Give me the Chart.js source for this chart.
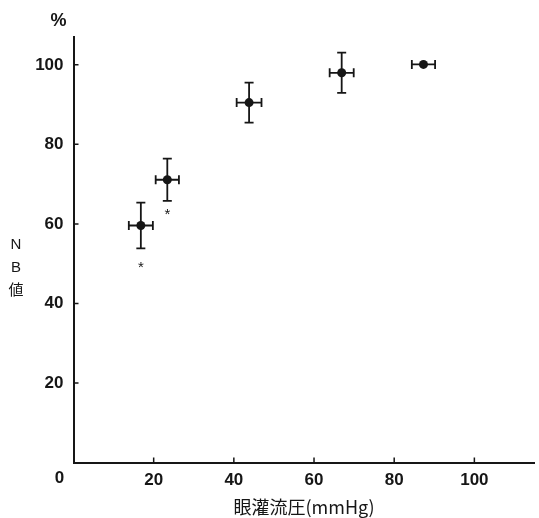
<!DOCTYPE html>
<html>
<head>
<meta charset="utf-8">
<script src="https://cdn.jsdelivr.net/npm/chart.js@4/dist/chart.umd.min.js"></script>
<style>
  html, body { margin: 0; padding: 0; background: #fff; }
  #wrap { width: 539px; height: 518px; }
</style>
</head>
<body>
<div id="wrap"><canvas id="nbChart"></canvas></div>
<script>
// ocular perfusion pressure (mmHg) vs NB value (%), mean ± SD
const pressure    = [16.8, 23.4, 43.8, 66.9, 87.3];
const nbValue     = [59.6, 71.1, 90.5, 98.0, 100.1];
const pressureErr = [3.0, 2.9, 3.1, 3.0, 2.9];
const nbErr       = [5.75, 5.3, 5.05, 5.05, 0];
// where the significance asterisk sits (NB value), null = none
const starLevel   = [49.7, 63.1, null, null, null];

const xTickValues = [0, 20, 40, 60, 80, 100];
const yTickValues = [20, 40, 60, 80, 100];

const INK = '#161616';
const SANS = '"Liberation Sans", Arial, sans-serif';
const NUM_FONT = { family: SANS, size: 17, weight: 'bold' };

// error bars, inner tick marks, asterisks and the odd labels Chart.js won't place for us
const decorations = {
    id: 'decorations',
    beforeDatasetsDraw(chart) {
        const { ctx, scales: { x, y } } = chart;
        ctx.save();
        ctx.strokeStyle = INK;
        ctx.lineWidth = 1.8;
        const cap = 4.5;
        pressure.forEach((pv, i) => {
            const cx = x.getPixelForValue(pv);
            const cy = y.getPixelForValue(nbValue[i]);
            // horizontal bar
            const xl = x.getPixelForValue(pv - pressureErr[i]);
            const xr = x.getPixelForValue(pv + pressureErr[i]);
            ctx.beginPath();
            ctx.moveTo(xl, cy); ctx.lineTo(xr, cy);
            ctx.moveTo(xl, cy - cap); ctx.lineTo(xl, cy + cap);
            ctx.moveTo(xr, cy - cap); ctx.lineTo(xr, cy + cap);
            ctx.stroke();
            // vertical bar
            if (nbErr[i] > 0) {
                const yt = y.getPixelForValue(nbValue[i] + nbErr[i]);
                const yb = y.getPixelForValue(nbValue[i] - nbErr[i]);
                ctx.beginPath();
                ctx.moveTo(cx, yt); ctx.lineTo(cx, yb);
                ctx.moveTo(cx - cap, yt); ctx.lineTo(cx + cap, yt);
                ctx.moveTo(cx - cap, yb); ctx.lineTo(cx + cap, yb);
                ctx.stroke();
            }
        });
        ctx.restore();
    },
    afterDraw(chart) {
        const { ctx, chartArea, scales: { x, y } } = chart;
        ctx.save();
        ctx.strokeStyle = INK;
        ctx.lineWidth = 1.5;
        // ticks point inward
        ctx.beginPath();
        xTickValues.filter(v => v > 0).forEach(v => {
            const px = x.getPixelForValue(v);
            ctx.moveTo(px, chartArea.bottom);
            ctx.lineTo(px, chartArea.bottom - 5);
        });
        yTickValues.forEach(v => {
            const py = y.getPixelForValue(v);
            ctx.moveTo(chartArea.left, py);
            ctx.lineTo(chartArea.left + 5, py);
        });
        ctx.stroke();

        ctx.fillStyle = INK;
        ctx.textAlign = 'center';
        ctx.textBaseline = 'middle';

        // asterisks
        ctx.font = '15px ' + SANS;
        starLevel.forEach((s, i) => {
            if (s === null) return;
            ctx.fillText('*', x.getPixelForValue(pressure[i]), y.getPixelForValue(s) + 3);
        });

        // shared origin label
        ctx.font = 'bold 17px ' + SANS;
        ctx.fillText('0', chartArea.left - 14, chartArea.bottom + 16);

        // unit above y axis
        ctx.font = 'bold 18px ' + SANS;
        ctx.fillText('%', chartArea.left - 15, 21);

        // stacked y title
        ctx.font = '15px ' + SANS;
        ctx.fillText('N', 16, 245);
        ctx.fillText('B', 16, 268);
        ctx.font = '15px "Noto Sans CJK JP", sans-serif';
        ctx.fillText('値', 16, 289);
        ctx.restore();
    }
};

new Chart(document.getElementById('nbChart'), {
    type: 'scatter',
    data: {
        datasets: [{
            data: pressure.map((p, i) => ({ x: p, y: nbValue[i] })),
            pointRadius: 4.5,
            pointHoverRadius: 4.5,
            pointBackgroundColor: INK,
            pointBorderColor: INK,
            pointBorderWidth: 0
        }]
    },
    options: {
        responsive: true,
        maintainAspectRatio: false,
        animation: false,
        layout: { padding: { top: 37, right: 0, left: 0, bottom: 0 } },
        plugins: { legend: { display: false }, tooltip: { enabled: false } },
        scales: {
            x: {
                type: 'linear',
                min: 0,
                max: 115,
                afterBuildTicks: s => { s.ticks = xTickValues.map(v => ({ value: v })); },
                afterFit: s => { s.height = 55.5; },
                grid: { display: false, drawTicks: false },
                border: { display: true, color: INK, width: 2 },
                ticks: {
                    color: INK,
                    font: NUM_FONT,
                    padding: 8,
                    maxRotation: 0,
                    callback: v => (v === 0 ? '' : v)
                },
                title: {
                    display: true,
                    text: '眼灌流圧(mmHg)',
                    color: INK,
                    font: { family: '"Noto Sans CJK JP", "Liberation Sans", sans-serif', size: 18 },
                    padding: { top: 0, bottom: 0 }
                }
            },
            y: {
                type: 'linear',
                min: 0,
                max: 107,
                afterBuildTicks: s => { s.ticks = yTickValues.map(v => ({ value: v })); },
                afterFit: s => { s.width = 73.5; },
                grid: { display: false, drawTicks: false },
                border: { display: true, color: INK, width: 2 },
                ticks: {
                    color: INK,
                    font: NUM_FONT,
                    padding: 10
                }
            }
        }
    },
    plugins: [decorations]
});
</script>
</body>
</html>
